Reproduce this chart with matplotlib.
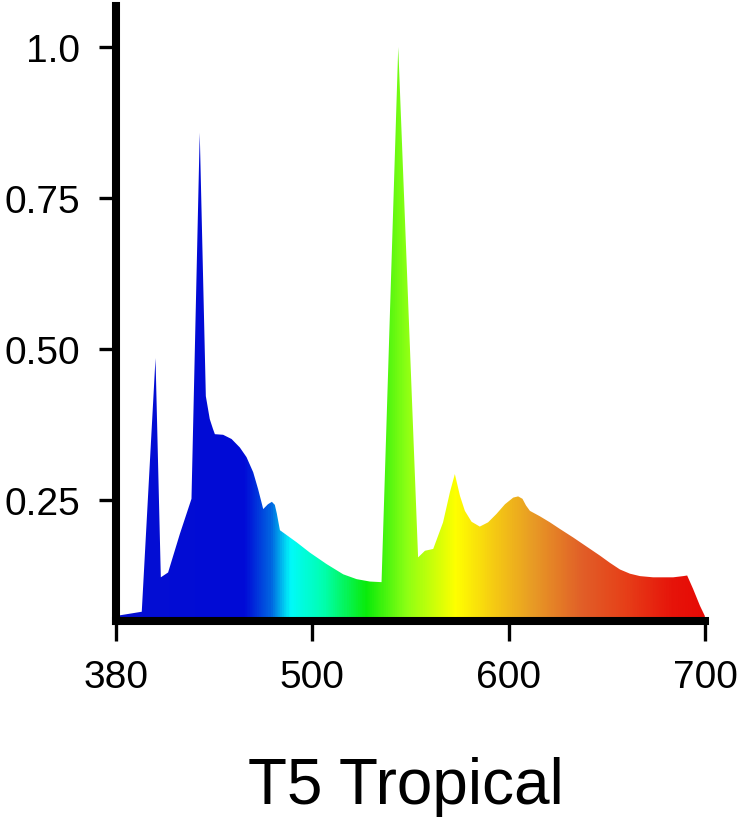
import numpy as np
import matplotlib
matplotlib.use("Agg")
import matplotlib.pyplot as plt
from matplotlib.colors import LinearSegmentedColormap
from matplotlib.patches import Polygon


# spectrum outline (axis position, relative intensity)
wl = [400, 413.2, 420.2, 422.9, 426.6, 432.6, 438.5, 442.7, 445.8, 447.8,
      449.4, 450.4, 454.6, 458.9, 463.1, 466.5, 469.9, 472.4, 475.0, 477.4,
      479.4, 480.9, 481.9, 483.5, 492.0, 498.7, 507.2, 515.7, 522.5, 529.3,
      535.2, 543.7, 553.8, 557.3, 561.5, 566.5, 570.0, 572.5, 575.1, 577.6,
      581.0, 585.2, 589.4, 593.7, 598.0, 602.2, 604.7, 606.9, 608.7, 610.7,
      615.8, 620.9, 626.0, 632.7, 639.5, 646.3, 651.4, 656.5, 661.6, 666.7,
      673.4, 683.6, 688.7, 690.7, 693.7, 697.2, 699.7]
intensity = [0.058, 0.065, 0.485, 0.122, 0.130, 0.194, 0.252, 0.858, 0.422, 0.384,
             0.368, 0.359, 0.358, 0.351, 0.337, 0.321, 0.296, 0.268, 0.235, 0.243,
             0.247, 0.242, 0.228, 0.200, 0.180, 0.163, 0.144, 0.127, 0.119, 0.115,
             0.114, 1.000, 0.155, 0.166, 0.169, 0.213, 0.263, 0.293, 0.257, 0.232,
             0.214, 0.206, 0.213, 0.227, 0.243, 0.254, 0.256, 0.252, 0.241, 0.232,
             0.223, 0.213, 0.202, 0.188, 0.173, 0.158, 0.146, 0.135, 0.128, 0.124,
             0.122, 0.122, 0.124, 0.125, 0.103, 0.075, 0.058]

xtick_values = [400, 500, 600, 700]
xtick_labels = ["380", "500", "600", "700"]
ytick_values = [0.25, 0.5, 0.75, 1.0]
ytick_labels = ["0.25", "0.50", "0.75", "1.0"]

title = "T5 Tropical"

# colour of the fill along the x axis
grad_wl = [400, 465.1, 478.4, 488.5, 505.3, 527.2, 547.6, 573.0, 593.4, 612.2,
           637.2, 658.5, 683.5, 700]
grad_rgb = [(5, 15, 210), (0, 10, 215), (0, 100, 225), (0, 250, 250), (0, 255, 175),
            (10, 235, 10), (140, 255, 20), (255, 255, 0), (245, 200, 20),
            (232, 155, 37), (225, 95, 40), (230, 65, 25), (230, 20, 10), (230, 10, 5)]

plt.rcParams["font.family"] = ["Liberation Sans", "DejaVu Sans"]

fig = plt.figure(figsize=(7.41, 8.2), dpi=100)
ax = fig.add_axes([0.1563, 0.2417, 0.7957, 0.7498])

verts = np.column_stack([np.r_[wl[0], wl, wl[-1]], np.r_[0, intensity, 0]])
outline = Polygon(verts, closed=True, facecolor="none", edgecolor="none")
ax.add_patch(outline)

lo, hi = grad_wl[0], grad_wl[-1]
cmap = LinearSegmentedColormap.from_list(
    "spectrum", [((w - lo) / (hi - lo), np.array(c) / 255) for w, c in zip(grad_wl, grad_rgb)])
xs = np.linspace(lo, hi, 800)
img = ax.imshow(xs[np.newaxis, :], cmap=cmap, vmin=lo, vmax=hi, aspect="auto",
                extent=(lo, hi, 0, 1.1), origin="lower", interpolation="bilinear")
img.set_clip_path(outline)

ax.set_xlim(400, 700)
ax.set_ylim(0.05, 1.068)

ax.set_xticks(xtick_values)
ax.set_xticklabels(xtick_labels)
ax.set_yticks(ytick_values)
ax.set_yticklabels(ytick_labels)

for side in ["top", "right"]:
    ax.spines[side].set_visible(False)
for side in ["left", "bottom"]:
    ax.spines[side].set_linewidth(5.8)
    ax.spines[side].set_color("black")

ax.tick_params(axis="x", length=14.4, width=2.4, pad=13, labelsize=28)
ax.tick_params(axis="y", length=12.6, width=2.4, pad=13, labelsize=28)

fig.text(406 / 741, 16 / 820, title, ha="center", va="baseline", fontsize=46)

plt.savefig("out.png", dpi=100)
